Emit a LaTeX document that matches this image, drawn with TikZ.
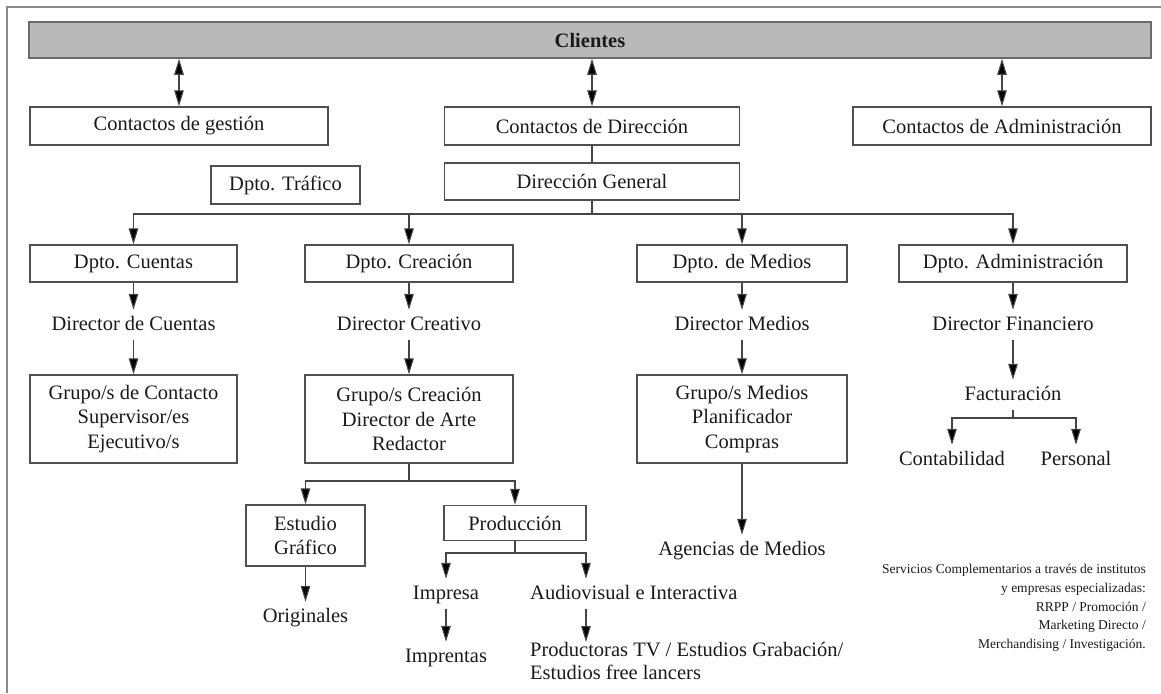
\documentclass[tikz,border=0pt]{standalone}
\usepackage{fontspec}
\setmainfont{Liberation Serif}
\usetikzlibrary{arrows.meta,calc}
\definecolor{txt}{HTML}{1A1A1A}
\definecolor{boxline}{HTML}{505050}
\definecolor{wire}{HTML}{454545}
\definecolor{barfill}{HTML}{B9B9B9}
\definecolor{barline}{HTML}{6A6A6A}
\definecolor{frameline}{HTML}{8A8A8A}
\newcommand\mainfs{\fontsize{20.5}{24.5}\selectfont}
\newcommand\notefs{\fontsize{13.5}{18.8}\selectfont}
\begin{document}
\begin{tikzpicture}[x=1pt,y=-1pt,
  box/.style={draw=boxline, line width=1.3pt, fill=white, inner sep=0pt,
    font=\mainfs, text=txt, align=center},
  lbl/.style={inner xsep=2pt, inner ysep=6pt, font=\mainfs, text=txt,
    text height=14pt, text depth=4pt},
  conn/.style={draw=wire, line width=1.1pt},
  tip/.tip={Triangle[length=16pt,width=9.5pt,fill=black]},
  arr/.style={conn, -tip},
  darr/.style={conn, tip-tip},
]
\useasboundingbox (0,0) rectangle (1161,693);

% outer frame (top and left edges)
\draw[frameline, line width=1.6pt] (1161,7) -- (7,7) -- (7,693);

% client bar
\node[draw=barline, line width=1.5pt, fill=barfill, minimum width=1122pt,
  minimum height=36pt, font=\mainfs\bfseries, text=txt, inner sep=0pt]
  (cli) at (590,40) {Clientes};

% contacts
\node[box, minimum width=298pt, minimum height=38pt] (cg) at (179,126) {Contactos de gestión};
\node[box, minimum width=295pt, minimum height=38pt] (cd) at (592,126) {Contactos de Dirección};
\node[box, minimum width=298pt, minimum height=38pt] (ca) at (1002,126) {Contactos de Administración};

\draw[darr] (cli.south -| cg) -- (cg);
\draw[darr] (cli.south -| cd) -- (cd);
\draw[darr] (cli.south -| ca) -- (ca);

% management
\node[box, minimum width=295pt, minimum height=37pt] (dg) at (592,181.5) {Dirección General};
\node[box, minimum width=149pt, minimum height=38pt] (tra) at (285.5,185) {Dpto. Tráfico};
\draw[conn] (cd) -- (dg);

% departments
\node[box, minimum width=207pt, minimum height=37pt] (dcu) at (133.5,263.5) {Dpto. Cuentas};
\node[box, minimum width=208pt, minimum height=37pt] (dcr) at (409,263.5) {Dpto. Creación};
\node[box, minimum width=210pt, minimum height=37pt] (dme) at (742,263.5) {Dpto. de Medios};
\node[box, minimum width=228pt, minimum height=37pt] (dad) at (1013,263.5) {Dpto. Administración};

\coordinate (dsplit) at (592,214);
\draw[conn] (dg) -- (dsplit);
\draw[arr] (dsplit) -| (dcu);
\draw[arr] (dsplit) -| (dcr);
\draw[arr] (dsplit) -| (dme);
\draw[arr] (dsplit) -| (dad);

% directors
\node[lbl] (rcu) at (133.5,325) {Director de Cuentas};
\node[lbl] (rcr) at (409,325) {Director Creativo};
\node[lbl] (rme) at (742,325) {Director Medios};
\node[lbl] (rad) at (1013,325) {Director Financiero};
\draw[arr] (dcu) -- (rcu);
\draw[arr] (dcr) -- (rcr);
\draw[arr] (dme) -- (rme);
\draw[arr] (dad) -- (rad);

% teams
\node[box, minimum width=207pt, minimum height=88pt] (gcu) at (133.5,419)
  {Grupo/s de Contacto\\Supervisor/es\\Ejecutivo/s};
\node[box, minimum width=208pt, minimum height=88pt] (gcr) at (409,419)
  {Grupo/s Creación\\Director de Arte\\Redactor};
\node[box, minimum width=210pt, minimum height=88pt] (gme) at (742,419)
  {Grupo/s Medios\\Planificador\\Compras};
\draw[arr] (rcu) -- (gcu);
\draw[arr] (rcr) -- (gcr);
\draw[arr] (rme) -- (gme);

% administration branch
\node[lbl] (fac) at (1013,395) {Facturación};
\draw[arr] (rad) -- (fac);
\node[lbl] (con) at (952,460) {Contabilidad};
\node[lbl] (per) at (1076,460) {Personal};
\coordinate (fsplit) at (1013,418);
\draw[conn] (fac) -- (fsplit);
\draw[arr] (fsplit) -| (con);
\draw[arr] (fsplit) -| (per);

% media branch
\node[lbl] (age) at (742,550) {Agencias de Medios};
\draw[arr] (gme) -- (age);

% creative branch
\node[box, minimum width=119pt, minimum height=61pt] (est) at (305.5,535.5) {Estudio\\Gráfico};
\node[box, minimum width=142pt, minimum height=35pt] (pro) at (515,523) {Producción};
\coordinate (gsplit) at (409,481);
\draw[conn] (gcr) -- (gsplit);
\draw[arr] (gsplit) -| (est);
\draw[arr] (gsplit) -| (pro);

\node[lbl] (ori) at (305.5,617) {Originales};
\draw[arr] (est) -- (ori);

\node[lbl] (imp) at (446,594) {Impresa};
\node[lbl, anchor=west, inner xsep=0pt] (aud) at (530,594) {Audiovisual e Interactiva};
\coordinate (psplit) at (515,553);
\coordinate (pleft) at (446,553);
\coordinate (pright) at (586,553);
\draw[conn] (pro) -- (psplit);
\draw[arr] (psplit) -- (pleft) -- (imp);
\draw[arr] (psplit) -- (pright) -- (pright |- aud.north);

\node[lbl] (impr) at (446,657) {Imprentas};
\draw[arr] (imp) -- (impr);
\node[anchor=north west, inner sep=0pt, font=\fontsize{20.5}{23}\selectfont, text=txt,
  align=left] (ptv) at (530,642) {Productoras TV / Estudios Grabación/\\Estudios free lancers};
\draw[arr] (pright |- aud.south) -- (pright |- ptv.north);

% complementary services note
\node[anchor=north east, inner sep=0pt, font=\notefs, text=txt, align=right] (serv)
  at (1146,564) {Servicios Complementarios a través de institutos\\
  y empresas especializadas:\\RRPP / Promoción /\\Marketing Directo /\\
  Merchandising / Investigación.};
\end{tikzpicture}
\end{document}
